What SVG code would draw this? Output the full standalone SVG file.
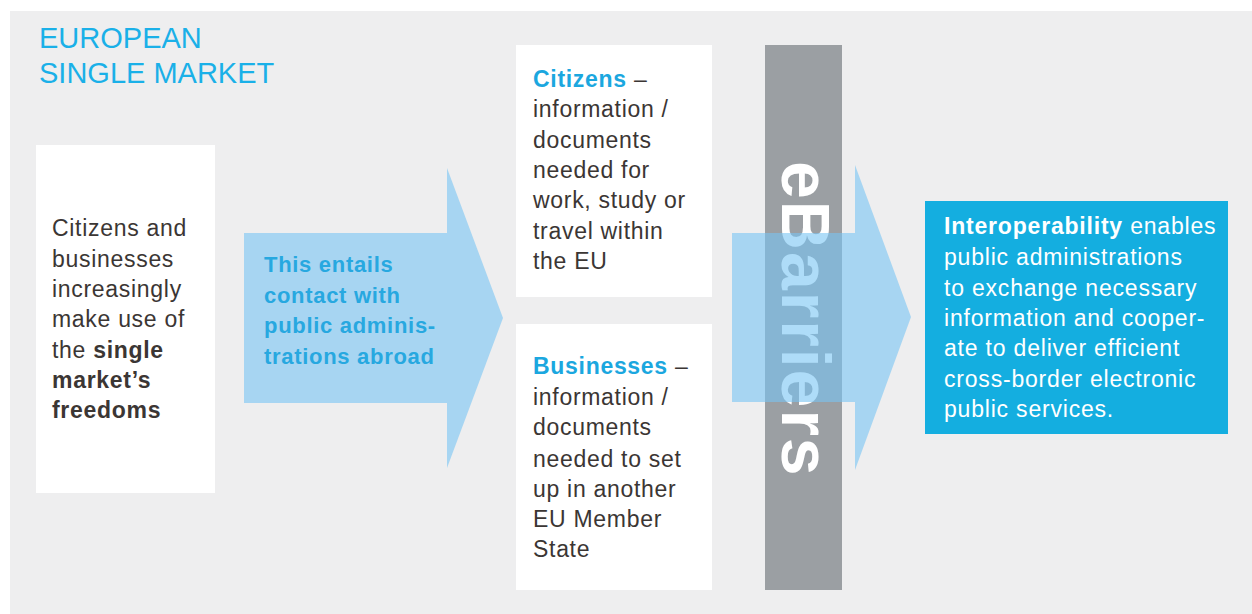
<svg xmlns="http://www.w3.org/2000/svg" width="1252" height="614" viewBox="0 0 1252 614">
  <style>
    .body { font-family: "Liberation Sans", Arial, sans-serif; font-size: 23px; letter-spacing: 0.7px; fill: #3b3634; }
    .b { font-weight: bold; }
    .hl { fill: #1ba7df; font-weight: bold; }
    .title { font-family: "Liberation Sans", Arial, sans-serif; font-size: 29px; fill: #1ab0e8; }
    .card { fill: #ffffff; }
    .flow { fill: #78c4f4; fill-opacity: 0.6; }
    .flowtext { font-family: "Liberation Sans", Arial, sans-serif; font-size: 22px; font-weight: bold; letter-spacing: 0.7px; fill: #27a8e0; }
    .inv { font-family: "Liberation Sans", Arial, sans-serif; font-size: 23px; letter-spacing: 0.8px; fill: #ffffff; }
  </style>

  <!-- page background -->
  <rect x="0" y="0" width="1252" height="614" fill="#ffffff"/>
  <rect x="10" y="11" width="1242" height="603" fill="#eeeeef"/>

  <g id="title">
    <text class="title" x="39" y="48">EUROPEAN</text>
    <text class="title" x="39" y="83">SINGLE MARKET</text>
  </g>

  <g id="node-single-market">
    <rect class="card" x="36" y="145" width="179" height="348"/>
    <text class="body" x="52" y="236">Citizens and</text>
    <text class="body" x="52" y="267">businesses</text>
    <text class="body" x="52" y="297">increasingly</text>
    <text class="body" x="52" y="327">make use of</text>
    <text class="body" x="52" y="358">the <tspan class="b">single</tspan></text>
    <text class="body b" x="52" y="388">market’s</text>
    <text class="body b" x="52" y="418">freedoms</text>
  </g>

  <g id="node-citizens">
    <rect class="card" x="516" y="45" width="196" height="252"/>
    <text class="body" x="533" y="87"><tspan class="hl">Citizens</tspan> –</text>
    <text class="body" x="533" y="117">information /</text>
    <text class="body" x="533" y="148">documents</text>
    <text class="body" x="533" y="178">needed for</text>
    <text class="body" x="533" y="208">work, study or</text>
    <text class="body" x="533" y="239">travel within</text>
    <text class="body" x="533" y="269">the EU</text>
  </g>

  <g id="node-businesses">
    <rect class="card" x="516" y="324" width="196" height="266"/>
    <text class="body" x="533" y="374"><tspan class="hl">Businesses</tspan> –</text>
    <text class="body" x="533" y="405">information /</text>
    <text class="body" x="533" y="435">documents</text>
    <text class="body" x="533" y="467">needed to set</text>
    <text class="body" x="533" y="497">up in another</text>
    <text class="body" x="533" y="527">EU Member</text>
    <text class="body" x="533" y="557">State</text>
  </g>

  <g id="node-ebarriers">
    <rect x="765" y="45" width="77" height="545" fill="#9b9fa3"/>
    <text transform="translate(782,161) rotate(90)" font-family="'Liberation Sans', Arial, sans-serif" font-size="68" font-weight="bold" letter-spacing="2" fill="#ffffff">eBarriers</text>
  </g>

  <g id="connectors">
    <g id="arrow-contact">
      <polygon class="flow" points="244,233 447,233 447,168 503,318 447,468 447,403 244,403"/>
      <text class="flowtext" x="264" y="272">This entails</text>
      <text class="flowtext" x="264" y="303">contact with</text>
      <text class="flowtext" x="264" y="333">public adminis-</text>
      <text class="flowtext" x="264" y="364">trations abroad</text>
    </g>
    <polygon id="arrow-barrier" class="flow" points="732,233 855,233 855,165 911,317 855,470 855,402 732,402"/>
  </g>

  <g id="node-interoperability">
    <rect x="925" y="201" width="303" height="233" fill="#14aee0"/>
    <text class="inv" x="944" y="234"><tspan font-weight="bold">Interoperability</tspan> enables</text>
    <text class="inv" x="944" y="265">public administrations</text>
    <text class="inv" x="944" y="296">to exchange necessary</text>
    <text class="inv" x="944" y="326">information and cooper-</text>
    <text class="inv" x="944" y="356">ate to deliver efficient</text>
    <text class="inv" x="944" y="387">cross-border electronic</text>
    <text class="inv" x="944" y="417">public services.</text>
  </g>
</svg>
